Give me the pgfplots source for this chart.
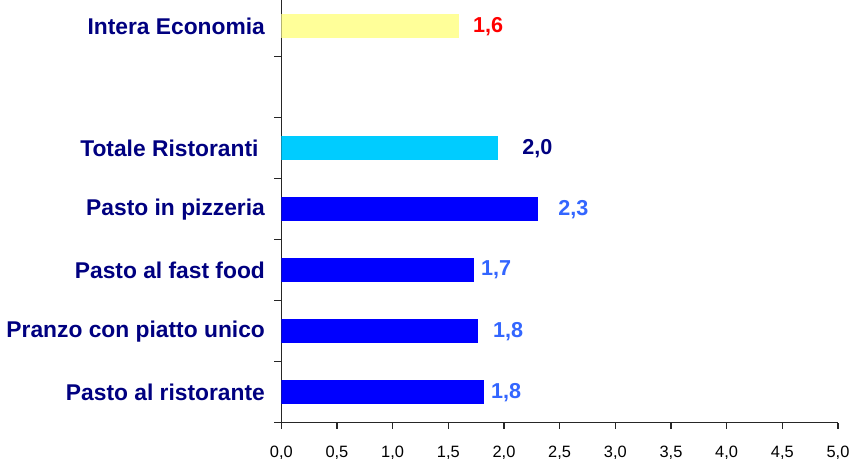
\documentclass[border=0pt]{standalone}
\usepackage{pgfplots}
\pgfplotsset{compat=1.18}
\usepackage{fontspec}
\setmainfont{Liberation Sans}
\definecolor{navy}{HTML}{000080}
\definecolor{barblue}{HTML}{0000FF}
\definecolor{barcyan}{HTML}{00CCFF}
\definecolor{baryellow}{HTML}{FFFF99}
\definecolor{lblblue}{HTML}{3366FF}
\definecolor{lblred}{HTML}{FF0000}

\begin{document}
\begin{tikzpicture}
\path[use as bounding box] (-140.65pt,-18.15pt) rectangle (285.35pt,211.35pt);
\begin{axis}[
    at={(0,0)}, anchor=south west,
    scale only axis, width=278.35pt, height=211.975pt,
    xmin=0, xmax=5, ymin=-0.5, ymax=6.45,
    xbar, bar width=12.2pt, bar shift=0pt,
    axis x line*=bottom, axis y line*=left,
    axis line style={-, line width=0.65pt, color=black!85},
    tick align=outside,
    tick style={line width=0.65pt, color=black!85},
    major tick length=3pt, minor tick length=3.5pt,
    xtick={0,0.5,...,5},
    xticklabel style={font=\fontsize{8.2}{10}\selectfont, inner sep=0pt, anchor=north, yshift=-8.5pt},
    /pgf/number format/.cd, fixed, fixed zerofill, precision=1, use comma, assume math mode=true,
    /pgfplots/.cd,
    ytick={0,...,6},
    yticklabels={Pasto al ristorante, Pranzo con piatto unico, Pasto al fast food,
        Pasto in pizzeria, {Totale Ristoranti\hspace*{3.2pt}}, , Intera Economia},
    major y tick style={draw=none},
    minor ytick={-0.5,0.5,...,5.5},
    yticklabel style={font=\bfseries\fontsize{11.4}{13}\selectfont, text=navy, inner sep=0pt, anchor=east, xshift=-5pt},
    point meta=explicit symbolic,
    nodes near coords,
    every node near coord/.append style={anchor=west, inner sep=0pt,
        font=\bfseries\fontsize{10.8}{13}\selectfont},
]
% Pasto al ristorante
\addplot[fill=barblue, draw=none, every node near coord/.append style={text=lblblue, xshift=3.35pt}]
    coordinates {(1.821,0) [1,8]};
% Pranzo con piatto unico
\addplot[fill=barblue, draw=none, every node near coord/.append style={text=lblblue, xshift=7.5pt}]
    coordinates {(1.765,1) [1,8]};
% Pasto al fast food
\addplot[fill=barblue, draw=none, every node near coord/.append style={text=lblblue, xshift=3.35pt}]
    coordinates {(1.731,2) [1,7]};
% Pasto in pizzeria
\addplot[fill=barblue, draw=none, every node near coord/.append style={text=lblblue, xshift=10pt}]
    coordinates {(2.306,3) [2,3]};
% Totale Ristoranti
\addplot[fill=barcyan, draw=none, every node near coord/.append style={text=navy, xshift=12.15pt}]
    coordinates {(1.944,4) [2,0]};
% Intera Economia
\addplot[fill=baryellow, draw=none, every node near coord/.append style={text=lblred, xshift=6.85pt}]
    coordinates {(1.597,6) [1,6]};
\end{axis}
\end{tikzpicture}
\end{document}
